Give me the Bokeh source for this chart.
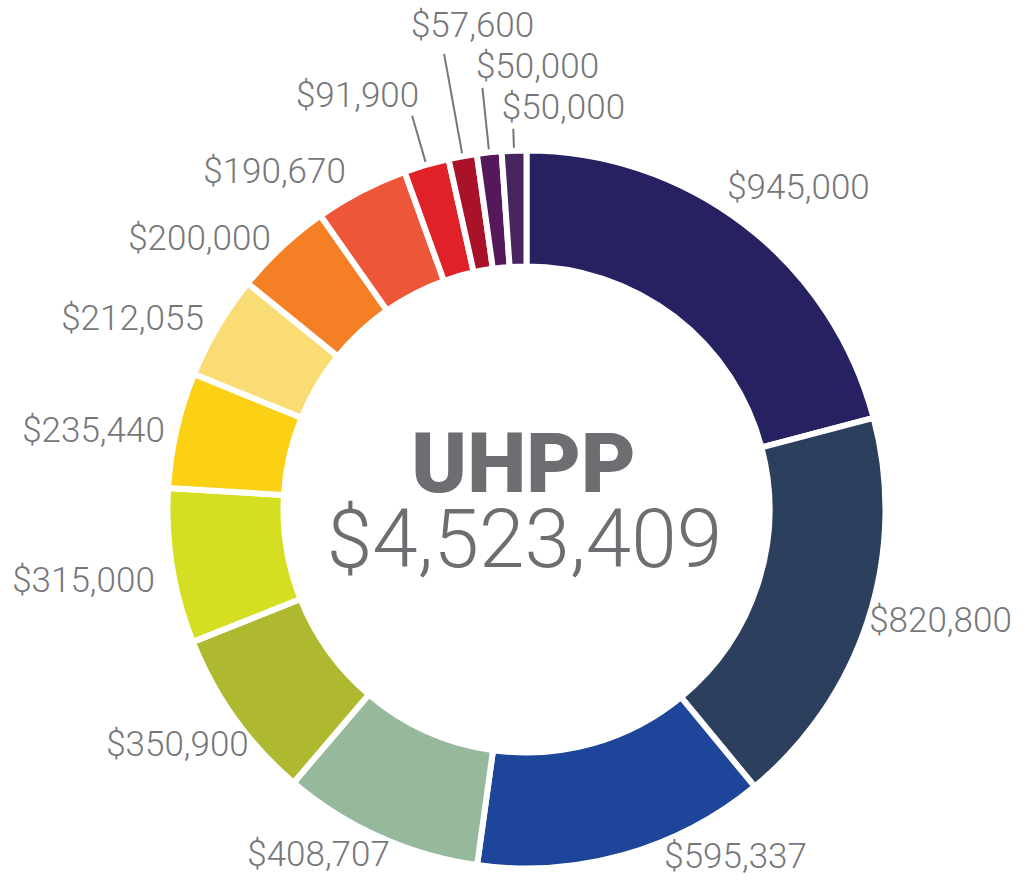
import math
from bokeh.plotting import figure
from bokeh.models import Range1d, ColumnDataSource
from bokeh.core.properties import value
from bokeh.embed import file_html
from bokeh.resources import INLINE

# ---------------- data ----------------
program = "UHPP"
amounts = [945000, 820800, 595337, 408707, 350900, 315000, 235440,
           212055, 200000, 190670, 91900, 57600, 50000, 50000]
colors = ["#262261", "#2c405e", "#1d4599", "#95b99a", "#afb930", "#d5df21",
          "#fcd014", "#f9dd74", "#f47f24", "#ee563a", "#e02127", "#aa1229",
          "#55185a", "#472660"]
labels = ["$" + f"{a:,}" for a in amounts]

# ---------------- layout ----------------
W, H = 1012, 876
CX, CY = 526, 509            # centre of ring, pixels from top-left of plot
R_OUT, R_IN = 356, 246
GAP = 6
LABEL_SIZE = 35
BASELINE_FIX = 0.35          # em; compensates renderer baseline placement
# label placement (degrees clockwise from 12 o'clock, distance from centre)
label_angle = [40.16, 105.0, 148.9, 211.1, 236.08, 260.93, 280.38,
               295.9, 309.68, 323.32, 337.81, 353.64, 361.42, 365.25]
label_dist = [421.7, 428.6, 404.8, 402.6, 420.6, 448.6, 440.2,
              438.0, 424.9, 421.8, 447.4, 487.3, 443.4, 404.0]
leader_end = [None] * 10 + [410, 463, 424, 381]
LEADER_START = 362

TEXT_GREY = "#76777a"
CENTER_GREY = "#6d6e71"

total = sum(amounts)
starts, ends, mids = [], [], []
cum = 0
for a in amounts:
    s = cum / total * 360.0
    cum += a
    e = cum / total * 360.0
    starts.append(s)
    ends.append(e)
    mids.append((s + e) / 2)

src = ColumnDataSource(dict(
    start=[math.radians(90 - e) for e in ends],
    end=[math.radians(90 - s) for s in starts],
    color=colors,
))

p = figure(width=W, height=H, output_backend="svg", toolbar_location=None,
           x_range=Range1d(-CX, W - CX), y_range=Range1d(-(H - CY), CY),
           min_border=0, outline_line_color=None)
p.axis.visible = False
p.grid.visible = False
p.background_fill_color = "white"
p.border_fill_color = "white"

p.annular_wedge(x=0, y=0, inner_radius=R_IN - GAP / 2, outer_radius=R_OUT + GAP / 2,
                start_angle="start", end_angle="end", fill_color="color",
                line_color="white", line_width=GAP, source=src)

# leader lines for the small slices
x0s, y0s, x1s, y1s = [], [], [], []
for m, r1 in zip(mids, leader_end):
    if r1 is None:
        continue
    t = math.radians(m)
    x0s.append(LEADER_START * math.sin(t)); y0s.append(LEADER_START * math.cos(t))
    x1s.append(r1 * math.sin(t)); y1s.append(r1 * math.cos(t))
p.segment(x0=x0s, y0=y0s, x1=x1s, y1=y1s, line_color=TEXT_GREY, line_width=2)

# value labels
cap = 0.711 * LABEL_SIZE
lx = [d * math.sin(math.radians(a)) for a, d in zip(label_angle, label_dist)]
ly = [d * math.cos(math.radians(a)) - cap / 2 + BASELINE_FIX * LABEL_SIZE
      for a, d in zip(label_angle, label_dist)]
p.text(x=lx, y=ly, text=labels, text_font=value("Roboto Light"),
       text_font_size=f"{LABEL_SIZE}px", text_color=TEXT_GREY,
       text_align="center", text_baseline="alphabetic")

# centre texts
p.text(x=[-3], y=[17 + BASELINE_FIX * 84], text=[program],
       text_font=value("Roboto Black, Roboto"),
       text_font_style="bold", text_font_size="84px", text_color=CENTER_GREY,
       text_align="center", text_baseline="alphabetic")
p.text(x=[-2], y=[-58 + BASELINE_FIX * 82], text=["$" + f"{total:,}"],
       text_font=value("Roboto Light"),
       text_font_size="82px", text_color=CENTER_GREY,
       text_align="center", text_baseline="alphabetic")

open("out.html", "w").write(file_html(p, INLINE))
